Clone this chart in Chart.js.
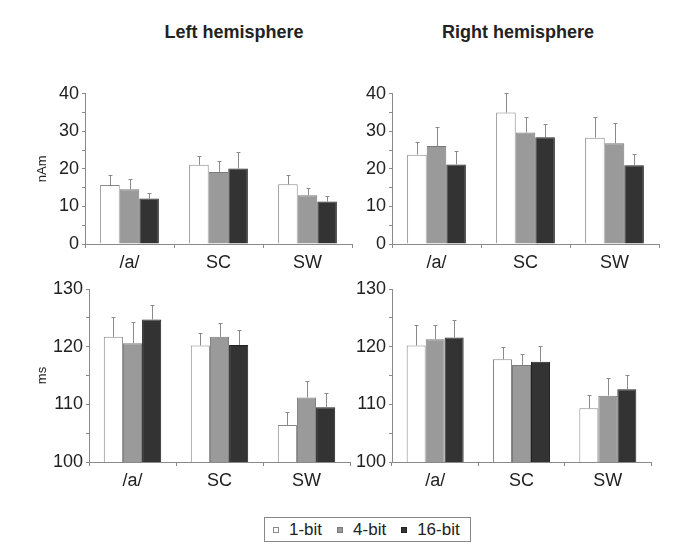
<!DOCTYPE html>
<html>
<head>
<meta charset="utf-8">
<script src="https://cdn.jsdelivr.net/npm/chart.js@4.4.1/dist/chart.umd.min.js"></script>
<style>
  body { margin: 0; background: #fff; font-family: "Liberation Sans", Arial, sans-serif; }
  #page { position: relative; width: 685px; height: 559px; }
  .panel { position: absolute; }
  .title { position: absolute; top: 22px; font-weight: bold; font-size: 18px; color: #222; transform: translateX(-50%); white-space: nowrap; }
  #legend { position: absolute; left: 264px; top: 517px; width: 197px; height: 23px; border: 1px solid #888; display: flex; align-items: center; padding: 0 0 0 8px; box-sizing: content-box; font-size: 17px; color: #222; }
  #legend span.sw { display: inline-block; width: 4px; height: 4px; margin-right: 10px; border: 1px solid #777; }
  #legend span.item { margin-right: 15px; display: inline-flex; align-items: center; }
  #legend span.item:last-child { margin-right: 0; }
</style>
</head>
<body>
<div id="page">
  <div class="title" style="left:234px">Left hemisphere</div>
  <div class="title" style="left:518px">Right hemisphere</div>
  <div class="panel" style="left:20px;top:80px;width:340px;height:200px"><canvas id="ampLeft"></canvas></div>
  <div class="panel" style="left:340px;top:80px;width:335px;height:200px"><canvas id="ampRight"></canvas></div>
  <div class="panel" style="left:20px;top:270px;width:340px;height:230px"><canvas id="latLeft"></canvas></div>
  <div class="panel" style="left:340px;top:270px;width:335px;height:230px"><canvas id="latRight"></canvas></div>
  <div id="legend"></div>
</div>
<script>
const categories = ["/a/", "SC", "SW"];
const seriesNames = ["1-bit", "4-bit", "16-bit"];
const seriesFill = ["#ffffff", "#9a9a9a", "#333333"];
const seriesEdge = ["#888888", "#7a7a7a", "#222222"];

// means per series (1-bit, 4-bit, 16-bit), one value per category
const ampLeftMean = [[15.7, 21.1, 15.9], [14.6, 19.2, 13.0], [12.1, 20.1, 11.3]];
const ampLeftErr = [[2.6, 2.4, 2.6], [2.6, 2.8, 1.9], [1.5, 4.3, 1.5]];
const ampRightMean = [[23.8, 35.0, 28.3], [26.1, 29.7, 26.8], [21.2, 28.4, 21.0]];
const ampRightErr = [[3.4, 5.2, 5.5], [5.0, 4.1, 5.4], [3.6, 3.5, 3.1]];
const latLeftMean = [[121.7, 120.2, 106.4], [120.6, 121.7, 111.2], [124.7, 120.3, 109.5]];
const latLeftErr = [[3.5, 2.2, 2.3], [3.7, 2.4, 2.9], [2.6, 2.6, 2.5]];
const latRightMean = [[120.2, 117.8, 109.3], [121.3, 116.8, 111.5], [121.6, 117.4, 112.6]];
const latRightErr = [[3.5, 2.1, 2.4], [2.4, 2.0, 3.1], [3.1, 2.8, 2.5]];

const ampTicks = { min: 0, max: 40, step: 5, label: 10 };
const latTicks = { min: 100, max: 130, step: 5, label: 10 };

const tickFont = { family: '"Liberation Sans", Arial, sans-serif', size: 18 };
const titleFont = { family: '"Liberation Sans", Arial, sans-serif', size: 13 };
const axisGray = "#8a8a8a";

// upper-only error bars with a tiny cap
const errorBars = {
  id: "errorBars",
  afterDatasetsDraw(chart) {
    const ctx = chart.ctx;
    const y = chart.scales.y;
    ctx.save();
    ctx.strokeStyle = "#8a8a8a";
    ctx.lineWidth = 1;
    chart.data.datasets.forEach((ds, i) => {
      const meta = chart.getDatasetMeta(i);
      meta.data.forEach((bar, j) => {
        const top = Math.round(y.getPixelForValue(ds.data[j] + ds.err[j])) + 0.5;
        const x = Math.round(bar.x) + 0.5;
        ctx.beginPath();
        ctx.moveTo(x, bar.y);
        ctx.lineTo(x, top);
        ctx.moveTo(x - 2, top);
        ctx.lineTo(x + 2, top);
        ctx.stroke();
      });
    });
    ctx.restore();
  },
};

function makePanel(id, means, errs, range, opts) {
  return new Chart(document.getElementById(id), {
    type: "bar",
    data: {
      labels: categories,
      datasets: seriesNames.map((name, k) => ({
        label: name,
        data: means[k],
        err: errs[k],
        backgroundColor: seriesFill[k],
        borderColor: seriesEdge[k],
        borderWidth: 1,
        categoryPercentage: 0.66,
        barPercentage: 1.0,
      })),
    },
    options: {
      responsive: true,
      maintainAspectRatio: false,
      animation: false,
      layout: { padding: { left: 0, right: opts.padRight, top: opts.padTop, bottom: 0 } },
      plugins: { legend: { display: false }, tooltip: { enabled: false } },
      scales: {
        x: {
          grid: { offset: true, drawOnChartArea: false, drawTicks: true, tickLength: 4, color: axisGray },
          border: { display: true, color: axisGray },
          ticks: { color: "#222", font: tickFont, padding: 4, maxRotation: 0 },
          afterFit: (s) => { s.height = opts.xHeight; },
        },
        y: {
          min: range.min,
          max: range.max,
          grid: { drawOnChartArea: false, drawTicks: true, tickLength: 3, color: axisGray },
          border: { display: true, color: axisGray },
          ticks: {
            stepSize: range.step,
            autoSkip: false,
            color: "#222",
            font: tickFont,
            padding: 3,
            callback: (v) => (v % range.label === 0 ? v : ""),
          },
          title: opts.yTitle
            ? { display: true, text: opts.yTitle, color: "#222", font: titleFont, padding: { top: 15, bottom: 0 } }
            : { display: false },
          afterFit: (s) => { s.width = opts.yWidth; },
        },
      },
    },
    plugins: [errorBars],
  });
}

makePanel("ampLeft", ampLeftMean, ampLeftErr, ampTicks,
  { yWidth: 65, xHeight: 36, padTop: 12, padRight: 8, yTitle: "nAm" });
makePanel("ampRight", ampRightMean, ampRightErr, ampTicks,
  { yWidth: 52, xHeight: 36, padTop: 12, padRight: 16 });
makePanel("latLeft", latLeftMean, latLeftErr, latTicks,
  { yWidth: 69, xHeight: 38, padTop: 19, padRight: 10, yTitle: "ms" });
makePanel("latRight", latRightMean, latRightErr, latTicks,
  { yWidth: 52, xHeight: 38, padTop: 19, padRight: 24 });

const legend = document.getElementById("legend");
seriesNames.forEach((name, k) => {
  const item = document.createElement("span");
  item.className = "item";
  const sw = document.createElement("span");
  sw.className = "sw";
  sw.style.background = seriesFill[k];
  sw.style.borderColor = seriesEdge[k];
  item.appendChild(sw);
  item.appendChild(document.createTextNode(name));
  legend.appendChild(item);
});
</script>
</body>
</html>
